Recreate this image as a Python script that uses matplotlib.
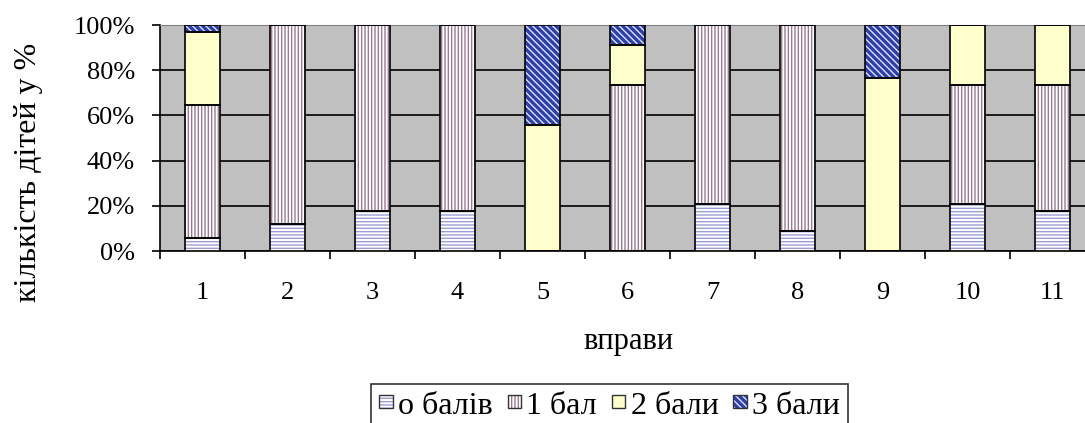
import numpy as np
import matplotlib
matplotlib.use('Agg')
import matplotlib.pyplot as plt
from matplotlib.patches import Patch, Rectangle
from matplotlib.legend_handler import HandlerBase
from matplotlib.ticker import PercentFormatter

plt.rcParams['font.family'] = ['Liberation Serif', 'DejaVu Serif']
plt.rcParams['hatch.linewidth'] = 1.0

# data: share of children (%) per score, for each exercise
exercises = ['1', '2', '3', '4', '5', '6', '7', '8', '9', '10', '11']
zero_pts = [5.9, 11.8, 17.6, 17.6, 0, 0, 20.6, 8.8, 0, 20.6, 17.6]
one_pt = [58.8, 88.2, 82.4, 82.4, 0, 73.5, 79.4, 91.2, 0, 52.9, 55.9]
two_pts = [32.4, 0, 0, 0, 55.9, 17.6, 0, 0, 76.5, 26.5, 26.5]
three_pts = [2.9, 0, 0, 0, 44.1, 8.8, 0, 0, 23.5, 0, 0]
series_names = ['о балів', '1 бал', '2 бали', '3 бали']

# style per series: face, hatch, hatch colour
styles = [
    ('white', '-----', '#9C9CD6'),
    ('white', '|||||', '#9A7890'),
    ('#FFFFCC', '', '#FFFFCC'),
    ('#2E3FA8', '\\\\\\\\\\', '#DCE2FF'),
]


class SquareHandler(HandlerBase):
    # small square legend key: hatched fill + dark outline
    def create_artists(self, legend, orig_handle, xdescent, ydescent, width, height, fontsize, trans):
        fc, hatch, hc = orig_handle.style
        size = 0.42 * fontsize
        x0 = -xdescent + (width - size) / 2
        y0 = -ydescent + 0.62 * fontsize - size
        fill = Rectangle((x0, y0), size, size, facecolor=fc, hatch=hatch, edgecolor=hc,
                         linewidth=0, transform=trans)
        outline = Rectangle((x0, y0), size, size, fill=False, edgecolor='#333333',
                            linewidth=1.0, transform=trans)
        return [fill, outline]


fig = plt.figure(figsize=(10.85, 4.23), dpi=100)
ax = fig.add_axes([160 / 1085, 1 - 251 / 423, 935 / 1085, 226 / 423])
ax.set_facecolor('#C0C0C0')

x = np.arange(1, len(exercises) + 1)
bottom = np.zeros(len(x))
handles = []
for vals, name, st in zip([zero_pts, one_pt, two_pts, three_pts], series_names, styles):
    fc, hatch, hc = st
    vals = np.array(vals)
    # hatched fill (hatch colour comes from edgecolor), then black outline on top
    ax.bar(x, vals, 0.41, bottom=bottom, color=fc, hatch=hatch, edgecolor=hc, linewidth=0, zorder=3)
    ax.bar(x, vals, 0.41, bottom=bottom, fill=False, edgecolor='black', linewidth=1.2, zorder=4)
    bottom += vals
    h = Patch()
    h.style = st
    handles.append(h)

ax.set_xlim(0.5, 11.5)
ax.set_ylim(0, 100)
ax.set_yticks(np.arange(0, 101, 20))
ax.yaxis.set_major_formatter(PercentFormatter(100, decimals=0))
ax.yaxis.grid(True, color='black', linewidth=1.2, zorder=1)
ax.set_axisbelow(True)

ax.set_xticks(x)
ax.set_xticklabels(exercises)
ax.set_xticks(np.arange(0.5, 12, 1), minor=True)
ax.tick_params(axis='x', which='major', length=0, pad=22, labelsize=19)
ax.tick_params(axis='x', which='minor', length=6, width=1.2, color='black')
ax.tick_params(axis='y', length=6, width=1.2, pad=12, labelsize=19)

for s in ['left', 'bottom']:
    ax.spines[s].set_color('black')
    ax.spines[s].set_linewidth(1.2)
ax.spines['top'].set_color('#808080')
ax.spines['right'].set_visible(False)

fig.text(29 / 1085, 1 - 172 / 423, 'кількість дітей у %', rotation=90,
         ha='center', va='center', fontsize=23)
fig.text(629 / 1085, 1 - 341 / 423, 'вправи', ha='center', va='center', fontsize=22)

leg = fig.legend(handles, series_names, ncol=4, loc='upper left',
                 bbox_to_anchor=(371 / 1085, 1 - 384 / 423), borderaxespad=0,
                 handler_map={Patch: SquareHandler()},
                 fontsize=23, frameon=True, fancybox=False, edgecolor='black',
                 handlelength=0.45, handletextpad=0.15,
                 columnspacing=0.45, borderpad=0.25)
leg.get_frame().set_linewidth(1.2)

fig.savefig('out.png', dpi=100)
